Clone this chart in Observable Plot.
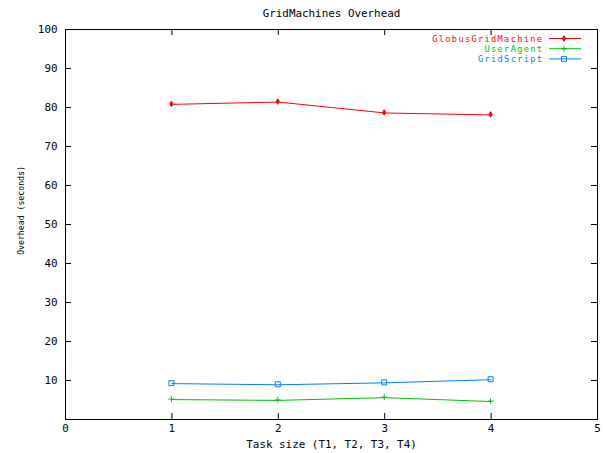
<!DOCTYPE html>
<html>
<head>
<meta charset="utf-8">
<script src="https://cdn.jsdelivr.net/npm/d3@7"></script>
<script src="https://cdn.jsdelivr.net/npm/@observablehq/plot@0.6"></script>
<style>
  html, body { margin: 0; padding: 0; background: #fff; }
</style>
</head>
<body>
<div id="chart"></div>
<script>
// ---- data ----
const tasks = [1, 2, 3, 4];
const seriesNames = ["GlobusGridMachine", "UserAgent", "GridScript"];
const globus = [80.8, 81.4, 78.6, 78.1];
const userAgent = [5.1, 4.9, 5.6, 4.6];
const gridScript = [9.2, 8.9, 9.4, 10.2];
const seriesColors = ["#ff0000", "#00c000", "#0080ff"];
const seriesSymbols = ["diamond2", "plus", "square"];
const xTicks = [0, 1, 2, 3, 4, 5];
const yTicks = [10, 20, 30, 40, 50, 60, 70, 80, 90, 100];
const titleText = "GridMachines Overhead";
const xLabel = "Task size (T1, T2, T3, T4)";
const yLabel = "Overhead (seconds)";

// ---- table built from arrays ----
const valuesBySeries = [globus, userAgent, gridScript];
const rows = [];
seriesNames.forEach((name, s) => {
  tasks.forEach((t, i) => rows.push({series: name, task: t, value: valuesBySeries[s][i]}));
});

const W = 605, H = 453;
const mL = 65, mR = 8, mT = 29, mB = 34;
const plotW = W - mL - mR, plotH = H - mT - mB;
const tick = 6;

// small gnuplot-like marker paths
function markerPath(kind) {
  if (kind === "diamond2") return "M0,-2.8L1.6,0L0,2.8L-1.6,0Z";
  if (kind === "plus") return "M-3,0H3M0,-3V3";
  return "M-2.5,-2.5H2.5V2.5H-2.5Z";
}

function legendMark(index, scales, values, dimensions) {
  const g = d3.create("svg:g")
    .attr("font-size", "8.7px").attr("letter-spacing", "1.3px");
  const xEnd = dimensions.width - dimensions.marginRight - 55;
  seriesNames.forEach((name, i) => {
    const y = 38.5 + i * 10.2;
    g.append("text").attr("x", xEnd + 1.3).attr("y", y).attr("dy", "0.35em")
      .attr("text-anchor", "end").attr("fill", seriesColors[i]).text(name);
    g.append("line").attr("x1", xEnd + 7).attr("x2", xEnd + 39)
      .attr("y1", y).attr("y2", y).attr("stroke", seriesColors[i]).attr("stroke-width", 1);
    g.append("path").attr("d", markerPath(seriesSymbols[i]))
      .attr("transform", `translate(${xEnd + 22},${y})`)
      .attr("fill", seriesSymbols[i] === "diamond2" ? seriesColors[i] : "none")
      .attr("stroke", seriesColors[i]).attr("stroke-width", 1);
  });
  return g.node();
}

function pointsMark(index, scales, values, dimensions) {
  const g = d3.create("svg:g");
  rows.forEach(d => {
    const s = seriesNames.indexOf(d.series);
    g.append("path").attr("d", markerPath(seriesSymbols[s]))
      .attr("transform", `translate(${scales.x(d.task)},${scales.y(d.value)})`)
      .attr("fill", seriesSymbols[s] === "diamond2" ? seriesColors[s] : "none")
      .attr("stroke", seriesColors[s]).attr("stroke-width", 1);
  });
  return g.node();
}

const chart = Plot.plot({
  width: W, height: H,
  marginLeft: mL, marginRight: mR, marginTop: mT, marginBottom: mB,
  style: {fontFamily: "'DejaVu Sans Mono', monospace", fontSize: "10.9px", background: "#fff", color: "#000"},
  x: {domain: [0, 5], label: null},
  y: {domain: [0, 100], label: null},
  color: {domain: seriesNames, range: seriesColors},
  marks: [
    // inward ticks, mirrored on all four sides
    Plot.tickY(yTicks, {y: d => d, insetRight: plotW - tick, stroke: "#000"}),
    Plot.tickY(yTicks, {y: d => d, insetLeft: plotW - tick, stroke: "#000"}),
    Plot.tickX(xTicks, {x: d => d, insetTop: plotH - tick, stroke: "#000"}),
    Plot.tickX(xTicks, {x: d => d, insetBottom: plotH - tick, stroke: "#000"}),
    Plot.axisY({ticks: yTicks, tickSize: 0, tickPadding: 8, label: null, tickFormat: d => String(d)}),
    Plot.axisX({ticks: xTicks, tickSize: 0, tickPadding: 5, label: null, tickFormat: d => String(d)}),
    Plot.frame({stroke: "#000"}),
    Plot.line(rows, {x: "task", y: "value", z: "series", stroke: "series", strokeWidth: 1}),
    pointsMark,
    Plot.text([titleText], {frameAnchor: "top", dy: -20, fill: "#000"}),
    Plot.text([xLabel], {frameAnchor: "bottom", dy: 28, fill: "#000"}),
    Plot.text([yLabel], {frameAnchor: "left", textAnchor: "middle", lineAnchor: "middle", rotate: -90, dx: -44, dy: -14, fill: "#000", fontSize: 8.2}),
    legendMark
  ]
});
document.getElementById("chart").appendChild(chart);
</script>
</body>
</html>
